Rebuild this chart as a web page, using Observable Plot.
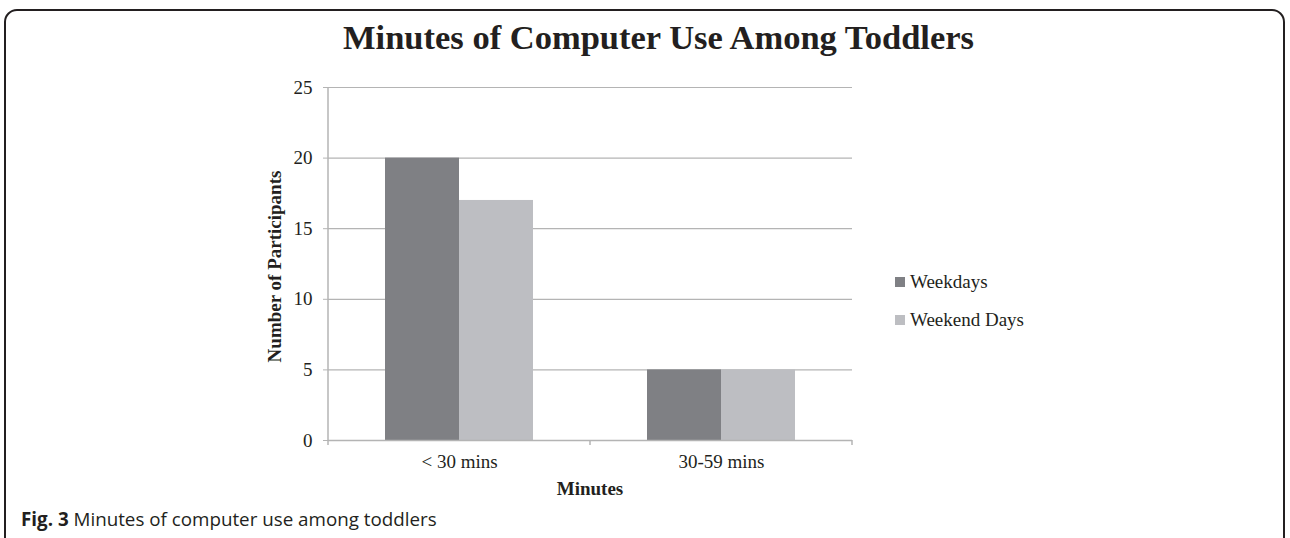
<!DOCTYPE html>
<html>
<head>
<meta charset="utf-8">
<script src="https://cdn.jsdelivr.net/npm/d3@7"></script>
<script src="https://cdn.jsdelivr.net/npm/@observablehq/plot@0.6"></script>
<style>
  html, body { margin: 0; padding: 0; background: #fff; }
  #wrap { position: relative; width: 1290px; height: 538px; overflow: hidden; }
  #border { position: absolute; left: 4px; top: 9px; width: 1281px; height: 560px;
    border: 2px solid #231f20; border-radius: 13px; box-sizing: border-box; }
  .serif { font-family: "Liberation Serif", "Times New Roman", serif; color: #231f20; }
  #title { position: absolute; left: 343px; top: 20px; font-size: 34.5px; font-weight: bold; white-space: nowrap; line-height: 1; }
  #xlabel { position: absolute; left: 0; width: 1180px; top: 479px; text-align: center; font-size: 19px; font-weight: bold; line-height: 1; }
  #legend { position: absolute; left: 895px; top: 271px; font-size: 19px; }
  .item { display: flex; align-items: center; height: 22px; margin-bottom: 16px; white-space: nowrap; }
  .sw { width: 10px; height: 10px; margin-right: 5px; }
  #caption { position: absolute; left: 21px; top: 508px; font-family: "Open Sans", "Noto Sans", sans-serif;
    font-size: 18.8px; color: #231f20; white-space: nowrap; line-height: 1.2; }
  #chart { position: absolute; left: 0; top: 0; }
</style>
</head>
<body>
<div id="wrap">
  <div id="chart"></div>
  <div id="border"></div>
  <div id="title" class="serif"></div>
  <div id="xlabel" class="serif"></div>
  <div id="legend" class="serif"></div>
  <div id="caption"></div>
</div>
<script>
// ---- data ----
const titleText = "Minutes of Computer Use Among Toddlers";
const yLabel = "Number of Participants";
const xLabel = "Minutes";
const captionBold = "Fig. 3";
const captionText = " Minutes of computer use among toddlers";
const categories = ["< 30 mins", "30-59 mins"];
const series = ["Weekdays", "Weekend Days"];
const weekdays = [20, 5];
const weekendDays = [17, 5];
const yTicks = [0, 5, 10, 15, 20, 25];
const colors = ["#7f8084", "#bdbec2"];

const seriesValues = [weekdays, weekendDays];
const data = [];
categories.forEach((c, i) => series.forEach((s, j) => data.push({cat: c, series: s, value: seriesValues[j][i]})));

const gridColor = "#b4b4b4";
const ink = "#231f20";

const chart = Plot.plot({
  width: 1290,
  height: 538,
  marginLeft: 327,
  marginRight: 438,
  marginTop: 87,
  marginBottom: 98,
  style: {fontFamily: "'Liberation Serif', 'Times New Roman', serif", fontSize: "19px", color: ink, background: "transparent"},
  fx: {domain: categories, padding: 0, label: null},
  x: {domain: series, paddingInner: 0, paddingOuter: 0.75, axis: null},
  y: {domain: [0, 25], label: null},
  color: {domain: series, range: colors},
  marks: [
    Plot.ruleY(yTicks.slice(1), {stroke: gridColor, strokeWidth: 1.2}),
    Plot.barY(data, {fx: "cat", x: "series", y: "value", fill: "series"}),
    Plot.ruleY([0], {stroke: gridColor, strokeWidth: 1.5}),
    Plot.axisY({ticks: yTicks, tickSize: 5, tickPadding: 11, stroke: gridColor, fill: ink, label: null, fontSize: 19}),
    Plot.axisFx({anchor: "bottom", tickSize: 0, tickPadding: 14, fill: ink, label: null, fontSize: 19})
  ]
});
document.getElementById("chart").appendChild(chart);

// axis line and category boundary ticks, from the plot's own scales
const fx = chart.scale("fx");
const y = chart.scale("y");
const svg = d3.select(chart);
const x0 = fx.apply(categories[0]);
const bw = fx.bandwidth;
svg.append("line")
  .attr("x1", x0).attr("x2", x0)
  .attr("y1", y.apply(0)).attr("y2", y.apply(25))
  .attr("stroke", gridColor).attr("stroke-width", 1.5);
const bounds = categories.map(c => fx.apply(c)).concat([fx.apply(categories[categories.length - 1]) + bw]);
svg.selectAll("line.bt").data(bounds).join("line")
  .attr("class", "bt")
  .attr("x1", d => d).attr("x2", d => d)
  .attr("y1", y.apply(0)).attr("y2", y.apply(0) + 5)
  .attr("stroke", gridColor).attr("stroke-width", 1.5);
// y axis title
svg.append("text")
  .attr("transform", `translate(281, ${(y.apply(0) + y.apply(25)) / 2 + 3}) rotate(-90)`)
  .attr("text-anchor", "middle")
  .attr("font-weight", "bold")
  .attr("font-size", 19)
  .attr("fill", ink)
  .text(yLabel);

// texts
document.getElementById("title").textContent = titleText;
const xl = document.getElementById("xlabel");
xl.textContent = xLabel;
xl.style.left = "0px";
xl.style.width = (2 * (x0 + bw)) + "px";
const lg = document.getElementById("legend");
series.forEach((s, i) => {
  const it = document.createElement("div");
  it.className = "item";
  const sw = document.createElement("div");
  sw.className = "sw";
  sw.style.background = colors[i];
  const t = document.createElement("span");
  t.textContent = s;
  it.appendChild(sw); it.appendChild(t);
  lg.appendChild(it);
});
const cap = document.getElementById("caption");
const b = document.createElement("b");
b.textContent = captionBold;
cap.appendChild(b);
cap.appendChild(document.createTextNode(captionText));
</script>
</body>
</html>
